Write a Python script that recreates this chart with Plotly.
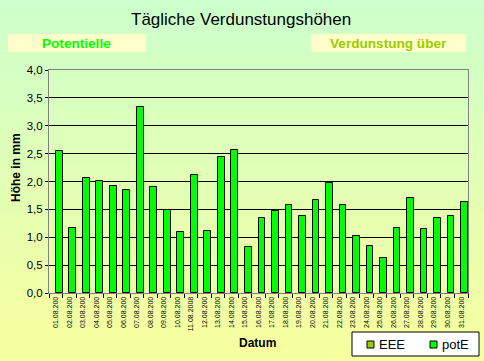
import plotly.graph_objects as go

dates = ["01.08.200", "02.08.200", "03.08.200", "04.08.200", "05.08.200", "06.08.200",
         "07.08.200", "08.08.200", "09.08.200", "10.08.200", "11.08.2008", "12.08.200",
         "13.08.200", "14.08.200", "15.08.200", "16.08.200", "17.08.200", "18.08.200",
         "19.08.200", "20.08.200", "21.08.200", "22.08.200", "23.08.200", "24.08.200",
         "25.08.200", "26.08.200", "27.08.200", "28.08.200", "29.08.200", "30.08.200",
         "31.08.200"]
potE = [2.55, 1.16, 2.07, 2.01, 1.92, 1.85, 3.34, 1.90, 1.48, 1.10, 2.12, 1.12,
        2.44, 2.57, 0.82, 1.34, 1.47, 1.57, 1.39, 1.66, 1.98, 1.57, 1.02, 0.84,
        0.62, 1.16, 1.70, 1.14, 1.34, 1.38, 1.64]
EEE = [None] * len(dates)
series_names = ["EEE", "potE"]
series_colors = ["#99CC00", "#00FF00"]

W, H = 484, 361
L, R, T, B = 49, 468, 70, 293
pw, ph = R - L, B - T

def px(x):
    return (x - L) / pw

def py(y):
    return (B - y) / ph

fig = go.Figure()
fig.add_trace(go.Bar(x=dates, y=EEE, name=series_names[0], showlegend=False,
                     marker=dict(color=series_colors[0], line=dict(color="black", width=1))))
fig.add_trace(go.Bar(x=dates, y=potE, name=series_names[1], width=0.5, offset=0, showlegend=False,
                     marker=dict(color=series_colors[1], line=dict(color="black", width=1))))

shapes = []
n = 60
c0 = (204, 255, 204)
c1 = (248, 255, 158)
for i in range(n):
    f = (i + 0.5) / n
    col = "rgb(%d,%d,%d)" % tuple(round(a + (b - a) * f) for a, b in zip(c0, c1))
    y0 = H * i / n
    y1 = H * (i + 1) / n + 1
    shapes.append(dict(type="rect", xref="paper", yref="paper", layer="below",
                       x0=px(0), x1=px(W), y0=py(y0), y1=py(y1),
                       fillcolor=col, line=dict(width=0)))
# header boxes
shapes.append(dict(type="rect", xref="paper", yref="paper", x0=px(8), x1=px(146), y0=py(52), y1=py(34),
                   fillcolor="#FFFFCC", line=dict(width=0), layer="below"))
shapes.append(dict(type="rect", xref="paper", yref="paper", x0=px(311), x1=px(466), y0=py(52), y1=py(34),
                   fillcolor="#FFFFCC", line=dict(width=0), layer="below"))

def ann(text, x, y, size, color, angle=0, xanchor="center"):
    return dict(text=text, x=px(x), y=py(y), xref="paper", yref="paper", xanchor=xanchor,
                yanchor="middle", showarrow=False, textangle=angle,
                font=dict(family="Arial", size=size, color=color))

annotations = [
    ann("Tägliche Verdunstungshöhen", 241, 19, 17, "black"),
    ann("<b>Potentielle</b>", 76, 43, 13.6, "#00FF00"),
    ann("<b>Verdunstung über</b>", 388, 43, 13.6, "#99CC00"),
    ann("<b>Höhe in mm</b>", 16, 168, 12, "black", -90),
    ann("<b>Datum</b>", 257, 343, 12, "black"),
]

# legend box (drawn manually to match the compact layout)
shapes.append(dict(type="rect", xref="paper", yref="paper", x0=px(352), x1=px(479), y0=py(356), y1=py(332),
                   fillcolor="white", line=dict(color="black", width=1)))
leg_x = [367, 430]
for name, col, x0 in zip(series_names, series_colors, leg_x):
    shapes.append(dict(type="rect", xref="paper", yref="paper", x0=px(x0), x1=px(x0 + 7),
                       y0=py(348), y1=py(341), fillcolor=col, line=dict(color="black", width=1)))
    annotations.append(ann(name, x0 + 10, 344, 13, "black", xanchor="left"))

fig.update_layout(
    width=W, height=H,
    margin=dict(l=L, r=W - R, t=T, b=H - B, pad=0, autoexpand=False),
    paper_bgcolor="#CCFFCC",
    plot_bgcolor="#C0C0C0",
    separators=",.",
    barmode="overlay",
    bargap=0,
    shapes=shapes,
    annotations=annotations,
    showlegend=False,
    font=dict(family="Arial", color="black"),
    xaxis=dict(type="category", tickangle=-90, tickson="boundaries", ticks="outside", ticklen=4,
               tickcolor="black", tickfont=dict(family="Arial", size=7, color="black"),
               showline=True, linecolor="#808080", mirror=True, showgrid=False, automargin=False),
    yaxis=dict(range=[0, 4], dtick=0.5, tickformat=".1f", ticks="outside", ticklen=3,
               tickcolor="black", showgrid=True, gridcolor="black", gridwidth=1,
               tickfont=dict(family="Arial", size=11.5, color="black"),
               showline=True, linecolor="#808080", mirror=True, zeroline=False, automargin=False),
)

fig.write_html("out.html", config={"displayModeBar": False},
               post_script="document.body.style.margin='0';document.body.style.overflow='hidden';")
